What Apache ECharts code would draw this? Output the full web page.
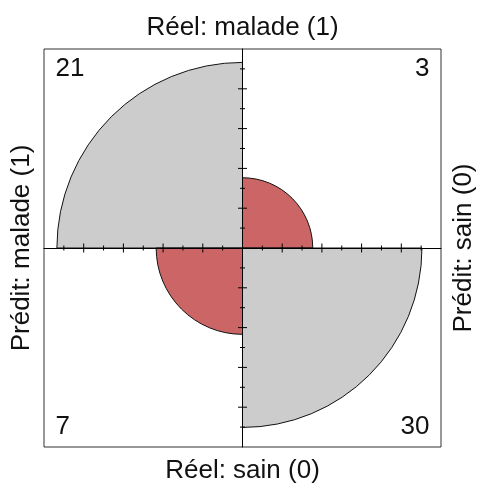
<!DOCTYPE html>
<html>
<head>
<meta charset="utf-8">
<script src="https://cdn.jsdelivr.net/npm/echarts@6/dist/echarts.min.js"></script>
<style>
  html, body { margin: 0; padding: 0; background: #fff; }
  #chart { width: 478px; height: 484px; }
</style>
</head>
<body>
<div id="chart"></div>
<script>
// confusion matrix, rows = réel, columns = prédit (malade, sain)
var classes = ['malade (1)', 'sain (0)']
var countsReelMalade = [21, 3]
var countsReelSain = [7, 30]
// quarter circle radius, in axis units (axis goes -10..10)
var radiiReelMalade = [9.35, 3.54]
var radiiReelSain = [4.35, 9.04]
var tickSteps = [1, 2, 3, 4, 5, 6, 7, 8, 9]

var font = 'Liberation Sans, Arial, Helvetica, sans-serif'

// build the cells: reel malade on top, predit malade on the left
var cells = []
var rowsCounts = [countsReelMalade, countsReelSain]
var rowsRadii = [radiiReelMalade, radiiReelSain]
for (var i = 0; i < 2; i++) {
  for (var j = 0; j < 2; j++) {
    cells.push([j === 0 ? -1 : 1, i === 0 ? 1 : -1, rowsRadii[i][j], rowsCounts[i][j], i === j ? 1 : 0])
  }
}

// ticks on the four arms of the center cross
var ticks = []
var arms = [[-1, 0], [1, 0], [0, 1], [0, -1]]
arms.forEach(function (a) {
  tickSteps.forEach(function (t) {
    ticks.push([a[0] * t, a[1] * t, t % 2 === 0 ? 1 : 0])
  })
})

function quadAngles (sx, sy) {
  if (sx < 0 && sy > 0) return [Math.PI, Math.PI * 1.5]
  if (sx > 0 && sy > 0) return [Math.PI * 1.5, Math.PI * 2]
  if (sx > 0 && sy < 0) return [0, Math.PI / 2]
  return [Math.PI / 2, Math.PI]
}

var chart = echarts.init(document.getElementById('chart'))
chart.setOption({
  animation: false,
  grid: {
    left: 44,
    top: 49,
    width: 397,
    height: 398,
    show: true,
    borderColor: '#333',
    borderWidth: 1
  },
  xAxis: {
    type: 'value',
    min: -10,
    max: 10,
    z: 5,
    axisLine: { onZero: true, lineStyle: { color: '#000', width: 1 } },
    axisTick: { show: false },
    axisLabel: { show: false },
    splitLine: { show: false }
  },
  yAxis: {
    type: 'value',
    min: -10,
    max: 10,
    z: 5,
    axisLine: { onZero: true, lineStyle: { color: '#000', width: 1 } },
    axisTick: { show: false },
    axisLabel: { show: false },
    splitLine: { show: false }
  },
  graphic: [
    {
      type: 'text', x: 242.5, y: 27.5,
      style: { text: 'Réel: ' + classes[0], font: '26px ' + font, fill: '#111', align: 'center', verticalAlign: 'middle' }
    },
    {
      type: 'text', x: 242.5, y: 471,
      style: { text: 'Réel: ' + classes[1], font: '26px ' + font, fill: '#111', align: 'center', verticalAlign: 'middle' }
    },
    {
      type: 'text', x: 22, y: 248, rotation: Math.PI / 2,
      style: { text: 'Prédit: ' + classes[0], font: '26px ' + font, fill: '#111', align: 'center', verticalAlign: 'middle' }
    },
    {
      type: 'text', x: 464, y: 248, rotation: Math.PI / 2,
      style: { text: 'Prédit: ' + classes[1], font: '26px ' + font, fill: '#111', align: 'center', verticalAlign: 'middle' }
    }
  ],
  series: [
    {
      type: 'custom',
      z: 2,
      data: cells,
      renderItem: function (params, api) {
        var sx = api.value(0)
        var sy = api.value(1)
        var r = api.size([api.value(2), 0])[0]
        var c = api.coord([0, 0])
        var ang = quadAngles(sx, sy)
        var p = api.coord([sx * 9.42, sy * 9.0])
        return {
          type: 'group',
          children: [
            {
              type: 'sector',
              shape: { cx: c[0], cy: c[1], r: r, r0: 0, startAngle: ang[0], endAngle: ang[1], clockwise: true },
              style: { fill: api.value(4) ? '#cccccc' : '#cc6666', stroke: '#111', lineWidth: 1 }
            },
            {
              type: 'text',
              x: p[0],
              y: p[1],
              style: {
                text: String(api.value(3)),
                font: '26px ' + font,
                fill: '#111',
                align: sx < 0 ? 'left' : 'right',
                verticalAlign: 'middle'
              }
            }
          ]
        }
      }
    },
    {
      type: 'custom',
      z: 6,
      data: ticks,
      renderItem: function (params, api) {
        var x = api.value(0)
        var y = api.value(1)
        var p = api.coord([x, y])
        var half = api.value(2) ? 4.5 : 2.5
        var shape = x !== 0
          ? { x1: p[0], y1: p[1] - half, x2: p[0], y2: p[1] + half }
          : { x1: p[0] - half, y1: p[1], x2: p[0] + half, y2: p[1] }
        return {
          type: 'line',
          shape: shape,
          style: { stroke: '#000', lineWidth: 1 }
        }
      }
    }
  ]
})
</script>
</body>
</html>
